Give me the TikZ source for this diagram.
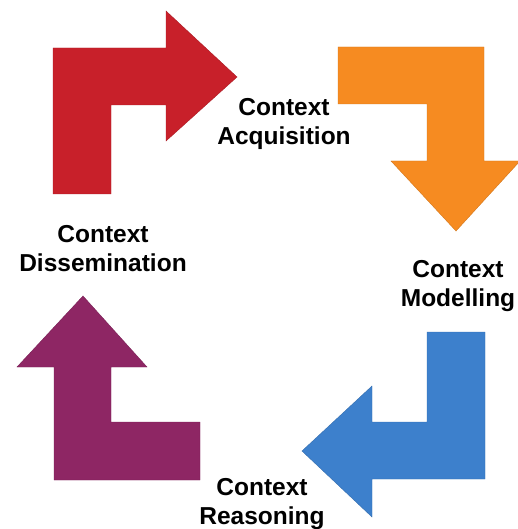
\documentclass[tikz,border=0pt]{standalone}
\usepackage{fontspec}
\setmainfont{Liberation Sans}
\usepackage{tikz}
\definecolor{acqred}{HTML}{C8202A}
\definecolor{modorange}{HTML}{F68B21}
\definecolor{reablue}{HTML}{3D80CC}
\definecolor{dispurple}{HTML}{8E2664}
\tikzset{bent/.style = {fill=#1, draw=#1!85!black, line width=0.4pt},
         phase/.style = {align=center, anchor=base, inner sep=0pt,
                         font=\fontsize{24.5}{29}\selectfont\bfseries}}

\begin{document}
\begin{tikzpicture}[x=1pt, y=-1pt]
    \useasboundingbox (0, 0) rectangle (518, 529);

    % acquisition
    \fill [bent=acqred] (53, 194) -- (53, 48) -- (166, 48) -- (166, 11) -- (237, 77)
      -- (166, 141) -- (166, 105) -- (111, 105) -- (111, 194) -- cycle;
    % modelling
    \fill [bent=modorange] (338, 47) -- (484, 47) -- (484, 161) -- (520, 161) -- (456, 231)
      -- (391, 161) -- (427, 161) -- (427, 104) -- (338, 104) -- cycle;
    % reasoning
    \fill [bent=reablue] (485, 332) -- (485, 479) -- (372, 479) -- (372, 517) -- (302, 451)
      -- (372, 386) -- (372, 422) -- (427, 422) -- (427, 332) -- cycle;
    % dissemination
    \fill [bent=dispurple] (200, 422) -- (200, 480) -- (54, 480) -- (54, 367) -- (17, 367)
      -- (83, 296) -- (147, 367) -- (111, 367) -- (111, 422) -- cycle;

    % base anchor sits on the second line
    \node [phase] (acq) at (284, 145) {Context\\Acquisition};
    \node [phase] (mod) at (458, 306) {Context\\Modelling};
    \node [phase] (rea) at (262, 524) {Context\\Reasoning};
    \node [phase] (dis) at (103, 271) {Context\\Dissemination};
  \end{tikzpicture}
\end{document}
